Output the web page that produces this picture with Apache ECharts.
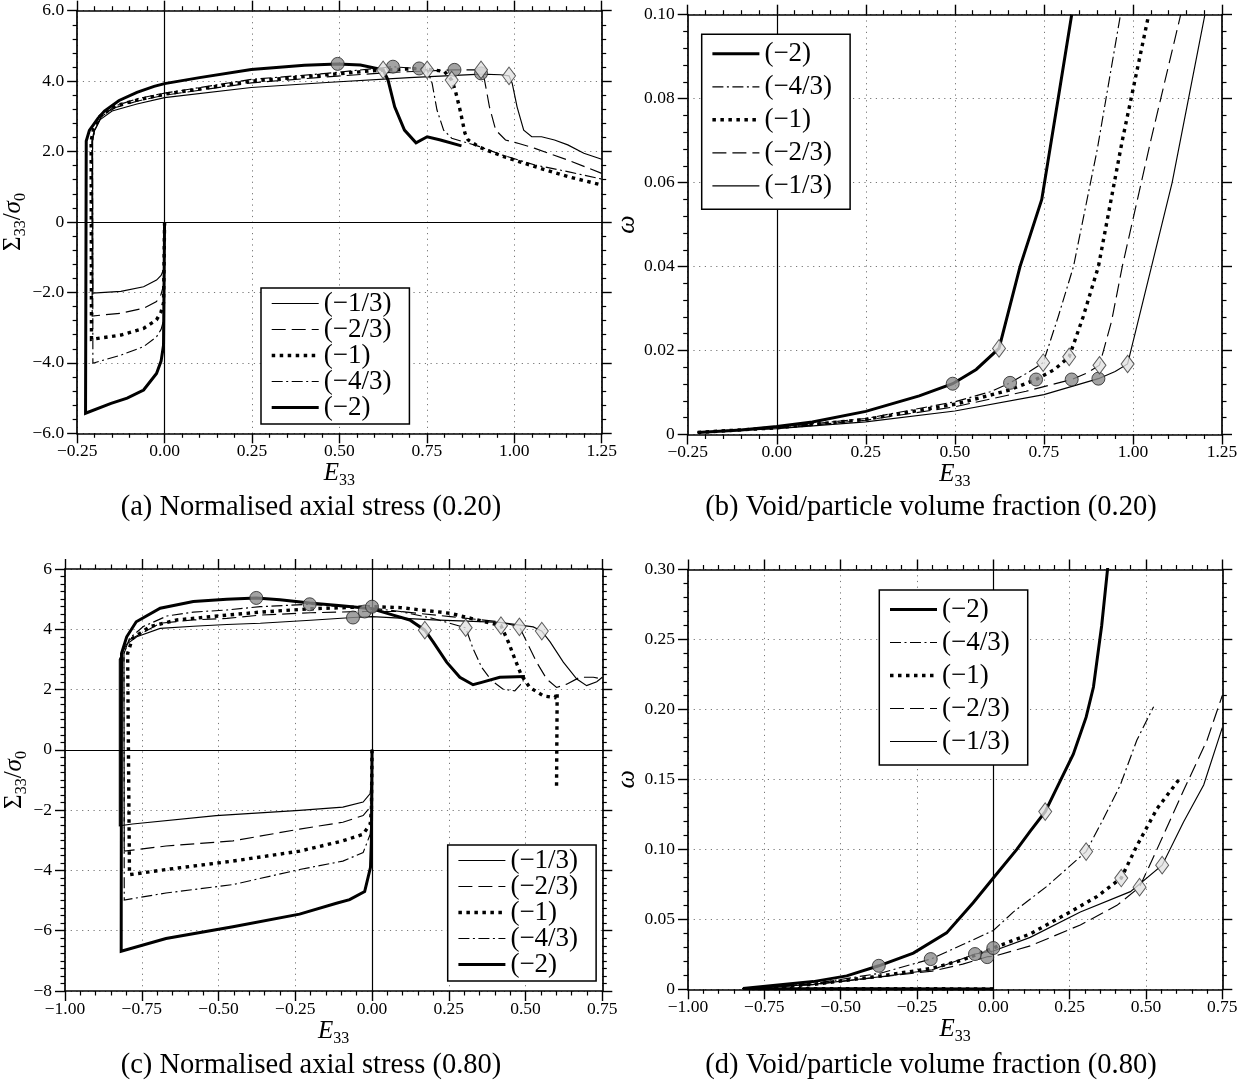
<!DOCTYPE html>
<html><head><meta charset="utf-8">
<script src="https://cdn.jsdelivr.net/npm/echarts@6/dist/echarts.min.js"></script>
<style>html,body{margin:0;padding:0;background:#fff}#c{width:1252px;height:1089px}</style>
</head><body><div id="c"></div>
<script>
// ---------- names ----------
const N13 = '(\u22121/3)', N23 = '(\u22122/3)', N1 = '(\u22121)', N43 = '(\u22124/3)', N2 = '(\u22122)';
const legendOrderAC = [N13, N23, N1, N43, N2];
const legendOrderBD = [N2, N43, N1, N23, N13];

// ---------- axis scales & tick labels ----------
const aX = [-0.25, 1.25, 0.25], aY = [-6, 6, 2];
const bX = [-0.25, 1.25, 0.25], bY = [0, 0.1, 0.02];
const cX = [-1, 0.75, 0.25], cY = [-8, 6, 2];
const dX = [-1, 0.75, 0.25], dY = [0, 0.3, 0.05];
const abXLabels = ['\u22120.25','0.00','0.25','0.50','0.75','1.00','1.25'];
const aYLabels = ['\u22126.0','\u22124.0','\u22122.0','0','2.0','4.0','6.0'];
const bYLabels = ['0','0.02','0.04','0.06','0.08','0.10'];
const cdXLabels = ['\u22121.00','\u22120.75','\u22120.50','\u22120.25','0.00','0.25','0.50','0.75'];
const cYLabels = ['\u22128','\u22126','\u22124','\u22122','0','2','4','6'];
const dYLabels = ['0','0.05','0.10','0.15','0.20','0.25','0.30'];

// ---------- panel (a): normalised axial stress (0.20) ----------
const a13 = [[0,0],[-0.003,-1.35],[-0.01,-1.52],[-0.023,-1.65],[-0.06,-1.84],[-0.125,-1.97],[-0.205,-2.02],[-0.206,2.3],[-0.2,2.6],[-0.185,2.9],[-0.15,3.15],[-0.079,3.35],[0,3.53],[0.248,3.82],[0.463,3.96],[0.7,4.1],[0.905,4.2],[0.96,4.18],[0.985,4.15],[0.994,3.94],[1.008,3.27],[1.027,2.61],[1.05,2.42],[1.078,2.42],[1.115,2.33],[1.153,2.19],[1.199,1.95],[1.25,1.78]];
const a23 = [[0,0],[-0.003,-1.8],[-0.01,-2.05],[-0.023,-2.26],[-0.06,-2.45],[-0.125,-2.59],[-0.207,-2.67],[-0.208,2.3],[-0.2,2.65],[-0.18,3.0],[-0.14,3.25],[-0.079,3.43],[0,3.6],[0.248,3.95],[0.463,4.12],[0.65,4.25],[0.829,4.32],[0.905,4.32],[0.915,4.03],[0.929,3.27],[0.947,2.61],[0.975,2.33],[1.013,2.23],[1.059,2.09],[1.153,1.76],[1.25,1.38]];
const a1 = [[0,0],[-0.003,-2.3],[-0.01,-2.55],[-0.023,-2.78],[-0.06,-3.02],[-0.125,-3.21],[-0.209,-3.33],[-0.21,2.3],[-0.203,2.65],[-0.185,3.0],[-0.14,3.3],[-0.079,3.46],[0,3.63],[0.248,4.0],[0.463,4.18],[0.6,4.3],[0.728,4.36],[0.8,4.28],[0.821,4.03],[0.831,3.75],[0.845,3.18],[0.859,2.52],[0.868,2.33],[0.901,2.12],[0.966,1.87],[1.059,1.57],[1.153,1.29],[1.25,1.05]];
const a43 = [[0,0],[-0.003,-2.8],[-0.01,-3.05],[-0.023,-3.26],[-0.06,-3.54],[-0.125,-3.78],[-0.205,-4.01],[-0.206,2.3],[-0.2,2.6],[-0.18,3.0],[-0.14,3.3],[-0.079,3.5],[0,3.66],[0.248,4.05],[0.463,4.22],[0.653,4.41],[0.72,4.36],[0.751,4.32],[0.765,3.94],[0.779,3.18],[0.798,2.61],[0.821,2.38],[0.854,2.28],[0.901,2.14],[0.966,1.9],[1.059,1.62],[1.153,1.43],[1.25,1.22]];
const a2 = [[0,0],[-0.003,-3.5],[-0.01,-3.95],[-0.023,-4.3],[-0.06,-4.77],[-0.107,-5.0],[-0.153,-5.15],[-0.226,-5.43],[-0.224,2.3],[-0.215,2.6],[-0.19,2.95],[-0.172,3.15],[-0.13,3.45],[-0.079,3.68],[-0.03,3.85],[0,3.93],[0.1,4.1],[0.248,4.33],[0.4,4.45],[0.495,4.49],[0.56,4.46],[0.625,4.32],[0.639,4.03],[0.658,3.27],[0.686,2.61],[0.719,2.25],[0.751,2.42],[0.789,2.33],[0.849,2.16]];
const aCircles = [[0.495,4.49],[0.653,4.41],[0.728,4.36],[0.829,4.32],[0.905,4.22]];
const aDiamonds = [[0.625,4.32],[0.751,4.32],[0.821,4.03],[0.905,4.32],[0.985,4.15]];

// ---------- panel (b): void/particle volume fraction (0.20) ----------
const b2 = [[-0.222,0.0005],[-0.1,0.0011],[0,0.0019],[0.1,0.003],[0.25,0.0055],[0.4,0.0092],[0.494,0.0121],[0.56,0.0155],[0.624,0.0205],[0.683,0.040],[0.744,0.056],[0.79,0.08],[0.828,0.1]];
const b43 = [[-0.222,0.0005],[0,0.0017],[0.25,0.0038],[0.5,0.0078],[0.6,0.0102],[0.655,0.0123],[0.7,0.0145],[0.748,0.0171],[0.79,0.028],[0.833,0.04],[0.9,0.068],[0.965,0.1]];
const b1 = [[-0.222,0.0005],[0,0.0016],[0.25,0.0036],[0.5,0.0072],[0.65,0.0105],[0.728,0.0131],[0.78,0.0155],[0.821,0.0185],[0.86,0.028],[0.903,0.04],[0.97,0.07],[1.043,0.0995]];
const b23 = [[-0.222,0.0005],[0,0.0015],[0.25,0.0034],[0.5,0.0066],[0.7,0.0103],[0.828,0.0131],[0.87,0.0146],[0.906,0.0165],[0.94,0.027],[0.97,0.04],[1.05,0.07],[1.134,0.1]];
const b13 = [[-0.222,0.0005],[0,0.0014],[0.25,0.003],[0.5,0.0056],[0.75,0.0095],[0.903,0.0133],[0.95,0.015],[0.985,0.0168],[1.029,0.032],[1.11,0.06],[1.202,0.1]];
const bCircles = [[0.494,0.0121],[0.655,0.0123],[0.728,0.0131],[0.828,0.0131],[0.903,0.0133]];
const bDiamonds = [[0.624,0.0205],[0.748,0.0171],[0.821,0.0185],[0.906,0.0165],[0.985,0.0168]];

// ---------- panel (c): normalised axial stress (0.80) ----------
const c2 = [[0,0],[-0.002,-3.0],[-0.005,-3.9],[-0.024,-4.7],[-0.073,-4.97],[-0.116,-5.09],[-0.236,-5.45],[-0.453,-5.87],[-0.671,-6.26],[-0.817,-6.68],[-0.816,3.2],[-0.799,3.75],[-0.768,4.25],[-0.69,4.7],[-0.582,4.92],[-0.473,5.0],[-0.377,5.04],[-0.3,4.98],[-0.203,4.87],[-0.1,4.78],[0,4.68],[0.069,4.47],[0.123,4.31],[0.172,3.97],[0.199,3.58],[0.243,2.91],[0.286,2.41],[0.329,2.16],[0.357,2.24],[0.416,2.41],[0.498,2.43]];
const c43 = [[0,0],[-0.002,-2.2],[-0.006,-2.8],[-0.029,-3.41],[-0.095,-3.69],[-0.236,-3.97],[-0.453,-4.47],[-0.671,-4.75],[-0.807,-4.98],[-0.808,3.2],[-0.79,3.7],[-0.745,4.09],[-0.668,4.44],[-0.582,4.57],[-0.473,4.64],[-0.364,4.75],[-0.203,4.83],[-0.1,4.75],[0,4.7],[0.092,4.59],[0.199,4.36],[0.305,4.05],[0.329,3.36],[0.357,2.74],[0.389,2.3],[0.427,2.01],[0.465,1.96],[0.482,2.15],[0.493,2.3]];
const c1 = [[0,0],[-0.002,-2.0],[-0.006,-2.46],[-0.029,-2.8],[-0.095,-3.02],[-0.236,-3.36],[-0.453,-3.69],[-0.671,-3.97],[-0.79,-4.14],[-0.796,3.2],[-0.78,3.7],[-0.723,4.09],[-0.636,4.31],[-0.473,4.47],[-0.364,4.57],[-0.2,4.68],[0,4.75],[0.092,4.72],[0.255,4.53],[0.42,4.12],[0.444,3.58],[0.465,3.02],[0.487,2.46],[0.514,2.07],[0.558,1.79],[0.596,1.73],[0.603,1.9],[0.601,-1.2]];
const c23 = [[0,0],[-0.002,-1.6],[-0.006,-1.9],[-0.029,-2.18],[-0.095,-2.4],[-0.236,-2.63],[-0.453,-3.02],[-0.671,-3.19],[-0.807,-3.36],[-0.808,3.2],[-0.79,3.65],[-0.69,4.2],[-0.582,4.31],[-0.473,4.36],[-0.364,4.47],[-0.2,4.55],[-0.024,4.59],[0.092,4.59],[0.255,4.42],[0.416,4.25],[0.48,4.08],[0.504,3.58],[0.536,2.91],[0.569,2.35],[0.601,2.07],[0.634,2.18],[0.677,2.41],[0.721,2.41],[0.75,2.35]];
const c13 = [[0,0],[-0.002,-1.0],[-0.006,-1.45],[-0.029,-1.73],[-0.095,-1.9],[-0.236,-2.01],[-0.508,-2.18],[-0.78,-2.46],[-0.823,-2.52],[-0.823,3.0],[-0.8,3.5],[-0.766,3.75],[-0.69,4.03],[-0.582,4.1],[-0.473,4.16],[-0.364,4.2],[-0.2,4.3],[-0.062,4.39],[0,4.42],[0.199,4.31],[0.416,4.23],[0.525,4.08],[0.553,3.94],[0.58,3.58],[0.623,2.91],[0.667,2.35],[0.699,2.13],[0.732,2.26],[0.75,2.41]];
const cCircles = [[-0.377,5.04],[-0.203,4.83],[-0.062,4.39],[-0.024,4.59],[0,4.75]];
const cDiamonds = [[0.172,3.97],[0.305,4.05],[0.42,4.12],[0.48,4.08],[0.553,3.94]];

// ---------- panel (d): void/particle volume fraction (0.80) ----------
const d2 = [[0,0.0003],[-0.82,0.0005],[-0.824,0.0007],[-0.59,0.0055],[-0.48,0.0096],[-0.375,0.0168],[-0.262,0.0259],[-0.153,0.0403],[-0.066,0.0619],[0,0.0795],[0.077,0.1],[0.121,0.113],[0.17,0.127],[0.208,0.144],[0.262,0.168],[0.304,0.1945],[0.328,0.216],[0.355,0.26],[0.375,0.302]];
const d43 = [[0,0.0003],[-0.807,0.0005],[-0.806,0.0008],[-0.59,0.004],[-0.37,0.0115],[-0.205,0.0216],[-0.1,0.032],[0,0.042],[0.066,0.0553],[0.175,0.0735],[0.304,0.0984],[0.361,0.122],[0.416,0.146],[0.47,0.178],[0.525,0.202]];
const d1 = [[0,0.0003],[-0.79,0.0005],[-0.79,0.0008],[-0.59,0.0035],[-0.37,0.0095],[-0.2,0.015],[-0.1,0.021],[0,0.0295],[0.121,0.0396],[0.262,0.0565],[0.339,0.0662],[0.419,0.0795],[0.47,0.1025],[0.536,0.129],[0.612,0.151]];
const d23 = [[0,0.0003],[-0.807,0.0005],[-0.806,0.0008],[-0.59,0.0033],[-0.37,0.0088],[-0.2,0.013],[-0.1,0.018],[-0.017,0.0234],[0,0.0235],[0.121,0.031],[0.285,0.046],[0.405,0.06],[0.479,0.073],[0.536,0.1],[0.623,0.142],[0.7,0.178],[0.75,0.21]];
const d13 = [[0,0.0003],[-0.823,0.0005],[-0.823,0.0008],[-0.59,0.0035],[-0.37,0.009],[-0.2,0.014],[-0.059,0.0252],[0,0.0274],[0.121,0.0371],[0.285,0.0553],[0.449,0.0698],[0.553,0.0887],[0.623,0.1195],[0.689,0.146],[0.75,0.187]];
const dCircles = [[-0.375,0.0168],[-0.205,0.0216],[-0.06,0.0252],[-0.02,0.023],[0,0.0295]];
const dDiamonds = [[0.17,0.127],[0.304,0.0984],[0.419,0.0795],[0.479,0.073],[0.553,0.0887]];

// ---------- styling / layout ----------
const FONT = '"Liberation Serif","Times New Roman",serif';
const LSTYLE = {};
LSTYLE[N13] = {width:1.15, type:'solid'};
LSTYLE[N23] = {width:1.15, type:[14,6]};
LSTYLE[N1]  = {width:3.4, type:[3.5,4.5]};
LSTYLE[N43] = {width:1.15, type:[11,3.5,2,3.5]};
LSTYLE[N2]  = {width:3.0, type:'solid'};

const GRIDS = [
  {left:65.5, top:10.7, width:536.2, height:422.6},
  {left:687.7, top:14.7, width:534.3, height:419.8},
  {left:65, top:569, width:537.3, height:422},
  {left:688, top:569.5, width:534.3, height:419.8}
];

const panels = [
  {x:aX, y:aY, xl:abXLabels, yl:aYLabels, ySplit:5, curves:[[N13,a13],[N23,a23],[N1,a1],[N43,a43],[N2,a2]], circ:aCircles, diam:aDiamonds, zero:['x','y'],
   yName:'sig', yGap:31, legend:{left:261, top:288, order:legendOrderAC, gap:-1, pad:[2,18,3,9]}},
  {x:bX, y:bY, xl:abXLabels, yl:bYLabels, ySplit:5, curves:[[N13,b13],[N23,b23],[N1,b1],[N43,b43],[N2,b2]], circ:bCircles, diam:bDiamonds, zero:['x'],
   yName:'om', yGap:42, legend:{left:701.7, top:34.3, order:legendOrderBD, gap:6, pad:[6,18,10,9]}},
  {x:cX, y:cY, xl:cdXLabels, yl:cYLabels, ySplit:8, curves:[[N13,c13],[N23,c23],[N1,c1],[N43,c43],[N2,c2]], circ:cCircles, diam:cDiamonds, zero:['x','y'],
   yName:'sig', yGap:31, legend:{left:447.7, top:845, order:legendOrderAC, gap:-1, pad:[2,18,3,9]}},
  {x:dX, y:dY, xl:cdXLabels, yl:dYLabels, ySplit:5, curves:[[N13,d13],[N23,d23],[N1,d1],[N43,d43],[N2,d2]], circ:dCircles, diam:dDiamonds, zero:['x'],
   yName:'om', yGap:42, legend:{left:879.3, top:590, order:legendOrderBD, gap:6, pad:[6,18,10,9]}}
];

const CAPTIONS = [
  {text:'(a) Normalised axial stress (0.20)', x:311, y:508},
  {text:'(b) Void/particle volume fraction (0.20)', x:931, y:508},
  {text:'(c) Normalised axial stress (0.80)', x:311, y:1066},
  {text:'(d) Void/particle volume fraction (0.80)', x:931, y:1066}
];

function labelFmt(labels, range) {
  return function (v) {
    const i = Math.round((v - range[0]) / range[2]);
    return labels[i] !== undefined ? labels[i] : '';
  };
}

function makeAxis(g, range, labels, split, main, pos, isX) {
  return {
    type:'value', gridIndex:g, position:pos,
    min:range[0], max:range[1], interval:range[2],
    axisLine:{show:true, onZero:false, lineStyle:{color:'#000', width:1.7}},
    axisTick:{show:true, length:10, lineStyle:{color:'#000', width:1.4}},
    minorTick:{show:true, splitNumber:split, length:4.5, lineStyle:{color:'#000', width:1.2}},
    splitLine:{show:main, lineStyle:{color:'#777', width:1, type:[1.2,4.5]}},
    minorSplitLine:{show:false},
    axisLabel:{show:main, formatter:labelFmt(labels, range), color:'#000', fontFamily:FONT, fontSize:17.5, margin: isX ? 9 : 13, hideOverlap:false},
    axisPointer:{show:false}
  };
}

const richBase = {
  t:{fontFamily:FONT, fontSize:25, lineHeight:30, color:'#000'},
  i:{fontFamily:FONT, fontSize:25, lineHeight:30, fontStyle:'italic', color:'#000'},
  s:{fontFamily:FONT, fontSize:16, lineHeight:16, verticalAlign:'bottom', color:'#000'}
};

const xAxes = [], yAxes = [], grids = [], series = [], legends = [];
panels.forEach((p, g) => {
  grids.push(Object.assign({containLabel:false}, GRIDS[g]));
  const xb = makeAxis(g, p.x, p.xl, 5, true, 'bottom', true);
  xb.name = '{i|E}{s|33}';
  xb.nameLocation = 'middle';
  xb.nameGap = 21;
  xb.nameTextStyle = {rich: richBase};
  xAxes.push(xb);
  xAxes.push(makeAxis(g, p.x, p.xl, 5, false, 'top', true));
  const yl = makeAxis(g, p.y, p.yl, p.ySplit, true, 'left', false);
  yl.nameLocation = 'middle';
  yl.nameRotate = 90;
  yl.nameGap = p.yGap;
  if (p.yName === 'sig') {
    yl.name = '{t|\u03A3}{s|33}{t|/}{i|\u03C3}{s|0}';
    yl.nameTextStyle = {rich: richBase};
  } else {
    yl.name = '{i|\u03C9}';
    yl.nameTextStyle = {rich: {i:{fontFamily:FONT, fontSize:26, lineHeight:26, fontStyle:'italic', color:'#000'}}};
  }
  yAxes.push(yl);
  yAxes.push(makeAxis(g, p.y, p.yl, p.ySplit, false, 'right', false));

  p.curves.forEach((cv, k) => {
    const s = {
      type:'line', name:cv[0], xAxisIndex:2*g, yAxisIndex:2*g, data:cv[1],
      symbol:'none', showSymbol:false, clip:true, animation:false, z:3,
      lineStyle:Object.assign({color:'#000', cap:'butt', join:'miter'}, LSTYLE[cv[0]]),
      itemStyle:{color:'#000'}, emphasis:{disabled:true}
    };
    if (k === 0) {
      s.markLine = {
        silent:true, symbol:['none','none'], animation:false, label:{show:false},
        lineStyle:{color:'#000', width:1.2, type:'solid'},
        data: p.zero.map(z => z === 'x' ? {xAxis:0} : {yAxis:0})
      };
    }
    series.push(s);
  });
  series.push({type:'scatter', name:'circles'+g, xAxisIndex:2*g, yAxisIndex:2*g, data:p.circ,
    symbol:'circle', symbolSize:13, z:6, animation:false, emphasis:{disabled:true},
    itemStyle:{color:'#8c8c8c', borderColor:'#222', borderWidth:1}});
  series.push({type:'scatter', name:'diamonds'+g, xAxisIndex:2*g, yAxisIndex:2*g, data:p.diam,
    symbol:'diamond', symbolSize:[13,17.5], z:6, animation:false, emphasis:{disabled:true},
    itemStyle:{color:'#e2e2e2', borderColor:'#333', borderWidth:1}});

  legends.push({
    orient:'vertical', left:p.legend.left, top:p.legend.top,
    itemWidth:47, itemHeight:14, itemGap:p.legend.gap,
    padding:p.legend.pad,
    backgroundColor:'#fff', borderColor:'#000', borderWidth:1.5, borderRadius:0,
    selectedMode:false, z:10,
    textStyle:{fontFamily:FONT, fontSize:27, color:'#000'},
    data: p.legend.order.map(n => ({
      name:n,
      lineStyle:Object.assign({color:'#000'}, LSTYLE[n]),
      itemStyle:{color:'rgba(0,0,0,0)', borderColor:'rgba(0,0,0,0)', borderWidth:0, opacity:0}
    }))
  });
});

const graphics = CAPTIONS.map(c => ({
  type:'text', x:c.x, y:c.y, silent:true,
  style:{text:c.text, font:'28.5px ' + FONT, fill:'#000', align:'center', verticalAlign:'middle'}
}));

const chart = echarts.init(document.getElementById('c'), null, {renderer:'canvas', width:1252, height:1089});
chart.setOption({
  animation:false,
  backgroundColor:'#fff',
  textStyle:{fontFamily:FONT},
  grid:grids, xAxis:xAxes, yAxis:yAxes, series:series, legend:legends, graphic:graphics,
  tooltip:{show:false}
});
</script></body></html>
